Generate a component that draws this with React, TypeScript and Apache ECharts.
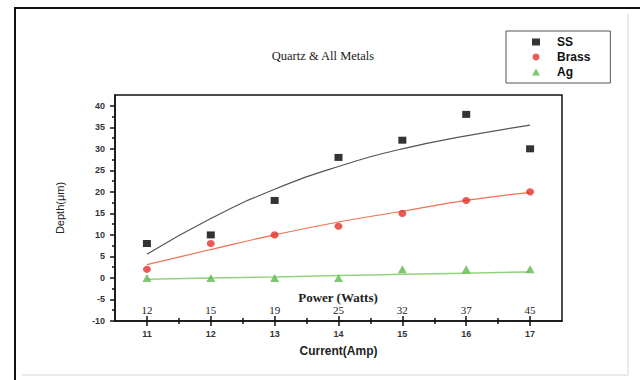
import React, { useEffect, useRef } from "react";
import * as echarts from "echarts";

const currents = [11, 12, 13, 14, 15, 16, 17];
const powerLabels = ["12", "15", "19", "25", "32", "37", "45"];
const ssValues = [8, 10, 18, 28, 32, 38, 30];
const brassValues = [2, 8, 10, 12, 15, 18, 20];
const agValues = [0, 0, 0, 0, 2, 2, 2];
const ssFit = [5.5, 13.8, 20.6, 25.9, 30, 33, 35.5];
const brassFit = [3.1, 6.6, 10, 13, 15.5, 18, 19.9];
const agFit = [-0.3, 0, 0.25, 0.55, 0.85, 1.1, 1.4];
const yMajor = [-10, -5, 0, 5, 10, 15, 20, 25, 30, 35, 40];
const yMinor = [-7.5, -2.5, 2.5, 7.5, 12.5, 17.5, 22.5, 27.5, 32.5, 37.5];
const xMinor = [11.5, 12.5, 13.5, 14.5, 15.5, 16.5];

const pair = (ys: number[]) => currents.map((x, i) => [x, ys[i]]);

const SANS = "Liberation Sans, Arial, sans-serif";
const SERIF = "Liberation Serif, Times New Roman, serif";

export default function App() {
  const ref = useRef<HTMLDivElement>(null);
  useEffect(() => {
    if (!ref.current) return;
    const chart = echarts.init(ref.current, undefined, { renderer: "svg" });
    const xBase = {
      type: "value",
      min: 10.5,
      max: 17.5,
      position: "bottom",
      gridIndex: 0,
      splitLine: { show: false },
    };
    const yBase = {
      type: "value",
      min: -10,
      max: 42.5,
      position: "left",
      gridIndex: 0,
      splitLine: { show: false },
    };
    chart.setOption({
      animation: false,
      backgroundColor: "#fff",
      grid: {
        left: 115,
        top: 95,
        width: 447,
        height: 226,
        show: true,
        borderColor: "#111",
        borderWidth: 1.5,
        backgroundColor: "transparent",
      },
      legend: {
        data: ["SS", "Brass", "Ag"],
        orient: "vertical",
        left: 506,
        top: 31,
        padding: [5, 20, 5, 26],
        itemGap: 3,
        itemWidth: 8,
        itemHeight: 7,
        borderColor: "#555",
        borderWidth: 1,
        textStyle: {
          fontFamily: SANS,
          fontSize: 12,
          fontWeight: "bold",
          color: "#111",
          padding: [0, 0, 0, 12],
        },
      },
      xAxis: [
        {
          ...xBase,
          axisLine: { show: true, onZero: false, lineStyle: { color: "#111", width: 1.5 } },
          axisTick: { show: false },
          axisLabel: {
            customValues: currents,
            margin: 8,
            fontFamily: SANS,
            fontSize: 9,
            fontWeight: "bold",
            color: "#333",
          },
          name: "Current(Amp)",
          nameLocation: "middle",
          nameGap: 24,
          nameTextStyle: { fontFamily: SANS, fontSize: 12, fontWeight: "bold", color: "#222" },
        },
        {
          ...xBase,
          offset: -5,
          axisLine: { show: false, onZero: false },
          axisTick: { show: true, customValues: currents, length: 10, lineStyle: { color: "#111", width: 1.5 } },
          axisLabel: { show: false },
        },
        {
          ...xBase,
          offset: -3,
          axisLine: { show: false, onZero: false },
          axisTick: { show: true, customValues: xMinor, length: 6, lineStyle: { color: "#111", width: 1.5 } },
          axisLabel: { show: false },
        },
        {
          ...xBase,
          axisLine: { show: false, onZero: false },
          axisTick: { show: false },
          axisLabel: {
            inside: true,
            customValues: currents,
            margin: 6,
            fontFamily: SERIF,
            fontSize: 11,
            color: "#222",
            formatter: (v: number) => powerLabels[currents.indexOf(v)] ?? "",
          },
        },
      ],
      yAxis: [
        {
          ...yBase,
          axisLine: { show: true, onZero: false, lineStyle: { color: "#111", width: 1.5 } },
          axisTick: { show: true, customValues: yMajor, length: 5, lineStyle: { color: "#111", width: 1.5 } },
          axisLabel: {
            customValues: yMajor,
            margin: 10,
            fontFamily: SANS,
            fontSize: 9,
            fontWeight: "bold",
            color: "#333",
          },
          name: "Depth(μm)",
          nameLocation: "middle",
          nameGap: 50,
          nameTextStyle: { fontFamily: SANS, fontSize: 11, color: "#222", padding: [0, 0, 0, 0] },
        },
        {
          ...yBase,
          axisLine: { show: false, onZero: false },
          axisTick: { show: true, customValues: yMinor, length: 3, lineStyle: { color: "#111", width: 1.5 } },
          axisLabel: { show: false },
        },
      ],
      graphic: [
        {
          type: "polyline",
          shape: { points: [[15, 380], [15, 8], [640, 8]] },
          style: { stroke: "#111", lineWidth: 2, fill: "none" },
          silent: true,
        },
        {
          type: "polyline",
          shape: { points: [[22, 375], [628, 375], [628, 14]] },
          style: { stroke: "#e4e4e4", lineWidth: 1.5, fill: "none" },
          silent: true,
        },
        {
          type: "text",
          x: 323,
          y: 56,
          style: {
            text: "Quartz & All Metals",
            align: "center",
            verticalAlign: "middle",
            fontFamily: SERIF,
            fontSize: 12.5,
            fill: "#222",
          },
          silent: true,
        },
        {
          type: "text",
          x: 338,
          y: 297,
          style: {
            text: "Power (Watts)",
            align: "center",
            verticalAlign: "middle",
            fontFamily: SERIF,
            fontSize: 13,
            fontWeight: "bold",
            fill: "#222",
          },
          silent: true,
        },
      ],
      series: [
        {
          name: "SS fit",
          type: "line",
          data: pair(ssFit),
          smooth: true,
          showSymbol: false,
          symbol: "none",
          lineStyle: { color: "#555", width: 1.2 },
          z: 1,
        },
        {
          name: "Brass fit",
          type: "line",
          data: pair(brassFit),
          smooth: true,
          showSymbol: false,
          symbol: "none",
          lineStyle: { color: "#f0704f", width: 1.2 },
          z: 1,
        },
        {
          name: "Ag fit",
          type: "line",
          data: pair(agFit),
          smooth: true,
          showSymbol: false,
          symbol: "none",
          lineStyle: { color: "#93d27c", width: 1.5 },
          z: 1,
        },
        {
          name: "SS",
          type: "scatter",
          data: pair(ssValues),
          symbol: "rect",
          symbolSize: [8, 7],
          itemStyle: { color: "#000" },
          z: 3,
        },
        {
          name: "Brass",
          type: "scatter",
          data: pair(brassValues),
          symbol: "circle",
          symbolSize: [8, 7],
          itemStyle: { color: "#e5302a" },
          z: 3,
        },
        {
          name: "Ag",
          type: "scatter",
          data: pair(agValues),
          symbol: "triangle",
          symbolSize: [9, 8],
          itemStyle: { color: "#5dbb4c" },
          z: 3,
        },
      ],
    });
    return () => chart.dispose();
  }, []);
  return (
    <div
      ref={ref}
      style={{ position: "fixed", left: 0, top: 0, width: 640, height: 380, background: "#fff" }}
    />
  );
}
